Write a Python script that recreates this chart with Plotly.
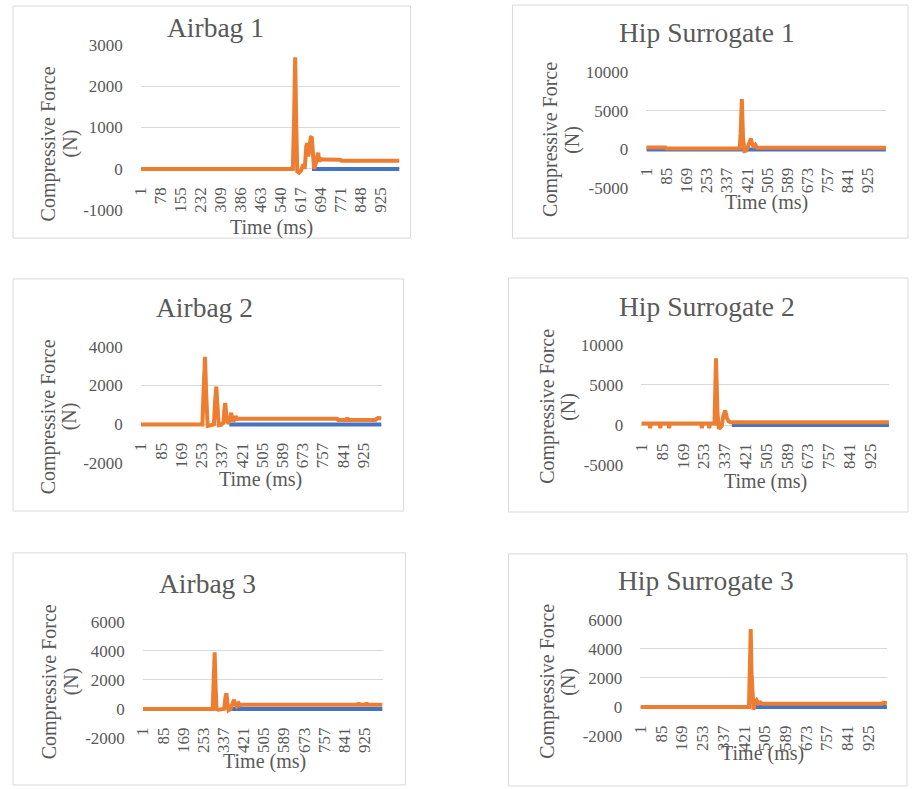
import plotly.graph_objects as go

W, H = 912, 789
# the paper area starts 8px inside the page on the left and at the top and
# bottom edges, so page pixel positions are mapped onto it through these
LEFT_INSET = 8
V_INSET = 8

FONT = "Liberation Serif"
TEXT_GREY = "#595959"
GRID_GREY = "#D9D9D9"
BLUE = "#4472C4"
ORANGE = "#ED7D31"

TITLES = ["Airbag 1", "Hip Surrogate 1", "Airbag 2",
          "Hip Surrogate 2", "Airbag 3", "Hip Surrogate 3"]
Y_TITLE_LINES = ["Compressive Force", "(N)"]
X_TITLE = "Time (ms)"

# category labels shown on the time axis
X_LABELS_77 = [1, 78, 155, 232, 309, 386, 463, 540, 617, 694, 771, 848, 925]
X_LABELS_84 = [1, 85, 169, 253, 337, 421, 505, 589, 673, 757, 841, 925]

# force axis ticks
A1_YTICKS = [-1000, 0, 1000, 2000, 3000]
H1_YTICKS = [-5000, 0, 5000, 10000]
A2_YTICKS = [-2000, 0, 2000, 4000]
H2_YTICKS = [-5000, 0, 5000, 10000]
A3_YTICKS = [-2000, 0, 2000, 4000, 6000]
H3_YTICKS = [-2000, 0, 2000, 4000, 6000]

# ---- Airbag 1 ----
A1_T = [1, 588, 593, 597, 601, 605, 612, 620, 628, 634, 640, 644, 648, 652,
        657, 661, 666, 670, 676, 682, 686, 690, 696, 705, 772, 776, 1000]
A1_F = [0, 0, 1300, 2700, 1100, -60, -90, -40, 110, 0, 560, 620, 300, 520,
        760, 780, 350, 0, 120, 380, 390, 180, 240, 225, 220, 195, 195]
A1_BASE_T = [662, 1000]
A1_BASE_F = [0, 0]

# ---- Hip Surrogate 1 ----
H1_T = [1, 80, 84, 390, 394, 399, 404, 410, 418, 426, 432, 437, 442, 448,
        455, 462, 1000]
H1_F = [250, 250, 120, 120, 2000, 6500, 1500, -200, -150, 500, 1300, 1400,
        700, 400, 600, 220, 220]
H1_BASE_T = [1, 1000]
H1_BASE_F = [0, 0]

# ---- Airbag 2 ----
A2_T = [1, 256, 262, 267, 272, 278, 286, 296, 304, 309, 314, 319, 324, 334,
        344, 347, 351, 356, 362, 370, 373, 376, 380, 385, 390, 394, 400, 410,
        816, 820, 854, 858, 862, 975, 985, 1000]
A2_F = [0, 0, 2000, 3480, 1500, -80, -60, -20, 0, 1200, 1950, 900, -40, -20,
        100, 700, 1100, 400, 50, 200, 500, 600, 250, 150, 300, 420, 280, 290,
        290, 230, 230, 330, 230, 230, 330, 320]
A2_BASE_T = [368, 1000]
A2_BASE_F = [0, 0]

# ---- Hip Surrogate 2 ----
H2_T = [1, 34, 36, 38, 75, 77, 79, 111, 113, 115, 243, 245, 247, 273, 275,
        277, 296, 302, 308, 313, 318, 325, 332, 339, 346, 352, 360, 1000]
H2_F = [200, 200, -400, 200, 200, -400, 200, 200, -400, 200, 200, -400, 200,
        200, -400, 200, 200, 8300, 1500, -300, -350, -100, 1200, 1800, 900,
        500, 350, 350]
H2_BASE_T = [366, 1000]
H2_BASE_F = [0, 0]

# ---- Airbag 3 ----
A3_T = [1, 292, 296, 300, 304, 308, 316, 330, 340, 345, 349, 353, 358, 366,
        372, 377, 381, 386, 391, 396, 400, 405, 412, 897, 901, 905, 929, 933,
        937, 1000]
A3_F = [0, 0, 2000, 3900, 1500, 0, -40, 0, 20, 800, 1090, 500, -80, 0, 300,
        600, 630, 300, 200, 380, 400, 250, 300, 300, 420, 300, 300, 420, 300,
        300]
A3_BASE_T = [355, 1000]
A3_BASE_F = [0, 0]

# ---- Hip Surrogate 3 ----
H3_T = [1, 441, 445, 448, 451, 455, 459, 466, 472, 479, 486, 495, 980, 985,
        1000]
H3_F = [0, 0, 3000, 5350, 2500, -100, -180, 300, 460, 250, 320, 230, 230,
        300, 260]
H3_BASE_T = [466, 1000]
H3_BASE_F = [0, 0]

SERIES = [
    (A1_T, A1_F, A1_BASE_T, A1_BASE_F, A1_YTICKS, X_LABELS_77),
    (H1_T, H1_F, H1_BASE_T, H1_BASE_F, H1_YTICKS, X_LABELS_84),
    (A2_T, A2_F, A2_BASE_T, A2_BASE_F, A2_YTICKS, X_LABELS_84),
    (H2_T, H2_F, H2_BASE_T, H2_BASE_F, H2_YTICKS, X_LABELS_84),
    (A3_T, A3_F, A3_BASE_T, A3_BASE_F, A3_YTICKS, X_LABELS_84),
    (H3_T, H3_F, H3_BASE_T, H3_BASE_F, H3_YTICKS, X_LABELS_84),
]

# panel geometry in page pixels: frame box, plot area, title centre,
# the two y-title line centres (x1, x2, y) and the x-title centre
PANELS = [
    dict(box=(12, 5, 410, 238), plot=(140, 44, 399, 210),
         title=(215, 27), ytitle=(48, 70, 143), xtitle=(271, 227)),
    dict(box=(512, 4, 908, 238), plot=(646, 71, 886, 188),
         title=(707, 32), ytitle=(550, 572, 139), xtitle=(766, 202)),
    dict(box=(12, 279, 403, 512), plot=(140, 347, 381, 464),
         title=(204, 308), ytitle=(47, 68, 417), xtitle=(260, 480)),
    dict(box=(508, 278, 908, 513), plot=(641, 345, 889, 466),
         title=(707, 307), ytitle=(547, 568, 407), xtitle=(765, 482)),
    dict(box=(12, 554, 405, 787), plot=(142, 623, 382, 740),
         title=(207, 585), ytitle=(48, 70, 683), xtitle=(264, 763)),
    dict(box=(508, 555, 907, 788), plot=(640, 621, 887, 738),
         title=(706, 582), ytitle=(547, 568, 683), xtitle=(762, 755)),
]


def fx(px):
    return (px - LEFT_INSET) / (W - LEFT_INSET)


def fy(py):
    return 1 - (py - V_INSET) / (H - 2 * V_INSET)


fig = go.Figure()
shapes = []
annotations = []


def add_text(text, x, y, size, angle=0):
    annotations.append(dict(text=text, x=fx(x), y=fy(y), xref="paper",
                            yref="paper", xanchor="center", yanchor="middle",
                            textangle=angle, showarrow=False,
                            font=dict(family=FONT, size=size,
                                      color=TEXT_GREY)))


for i, ((t, f, bt, bf, yticks, xlabels), p, title) in enumerate(
        zip(SERIES, PANELS, TITLES), start=1):
    sfx = "" if i == 1 else str(i)
    xa, ya = "x" + sfx, "y" + sfx

    fig.add_trace(go.Scatter(x=bt, y=bf, mode="lines", xaxis=xa, yaxis=ya,
                             line=dict(color=BLUE, width=4),
                             showlegend=False, hoverinfo="skip"))
    fig.add_trace(go.Scatter(x=t, y=f, mode="lines", xaxis=xa, yaxis=ya,
                             line=dict(color=ORANGE, width=4),
                             showlegend=False))

    x0, y0, x1, y1 = p["plot"]
    ydom = [fy(y1), fy(y0)]
    ymin, ymax = yticks[0], yticks[-1]
    zero_pos = ydom[0] + (0 - ymin) / (ymax - ymin) * (ydom[1] - ydom[0])

    fig.layout["xaxis" + sfx] = dict(
        domain=[fx(x0), fx(x1)], range=[0.5, 1000.5], anchor="free",
        position=zero_pos, tickvals=xlabels,
        ticktext=[str(v) for v in xlabels], tickangle=-90,
        ticklabelstandoff=14, showgrid=False, zeroline=False, showline=False,
        ticks="", tickfont=dict(family=FONT, size=17, color=TEXT_GREY),
        fixedrange=True)
    fig.layout["yaxis" + sfx] = dict(
        domain=ydom, range=[ymin, ymax], anchor=xa, tickvals=yticks,
        ticktext=[str(v) for v in yticks],
        showgrid=True, gridcolor=GRID_GREY, gridwidth=1, zeroline=False,
        showline=False, ticks="", ticklabelstandoff=17,
        tickfont=dict(family=FONT, size=17, color=TEXT_GREY),
        fixedrange=True)

    bx0, by0, bx1, by1 = p["box"]
    shapes.append(dict(type="rect", xref="paper", yref="paper",
                       x0=fx(bx0), x1=fx(bx1), y0=fy(by1), y1=fy(by0),
                       line=dict(color=GRID_GREY, width=1),
                       fillcolor="white", layer="below"))

    add_text(title, *p["title"], size=27.5)
    lx1, lx2, ly = p["ytitle"]
    add_text(Y_TITLE_LINES[0], lx1, ly, 20, -90)
    add_text(Y_TITLE_LINES[1], lx2, ly, 20, -90)
    add_text(X_TITLE, *p["xtitle"], size=20)

fig.update_layout(width=W, height=H, autosize=False,
                  margin=dict(l=0, r=0, t=0, b=0, pad=0),
                  paper_bgcolor="white", plot_bgcolor="rgba(0,0,0,0)",
                  shapes=shapes, annotations=annotations, showlegend=False)

fig.write_html("out.html", config={"displayModeBar": False})
